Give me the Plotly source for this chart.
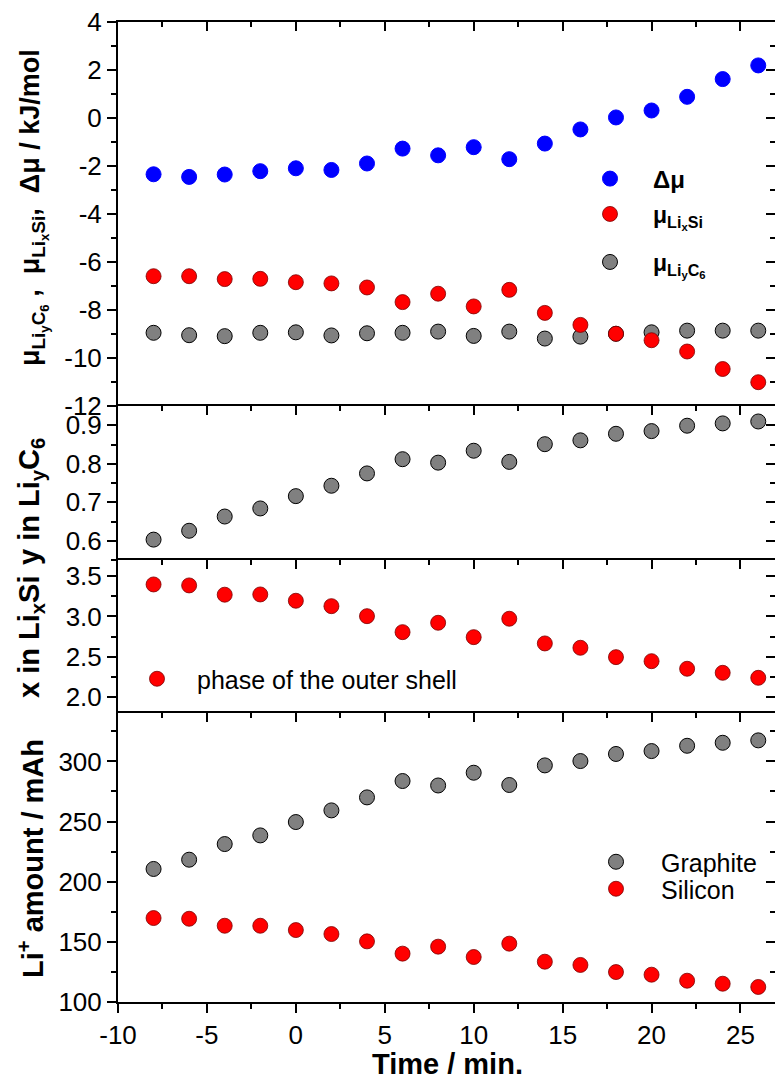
import plotly.graph_objects as go

# ---------------- data ----------------
time_min = [-8, -6, -4, -2, 0, 2, 4, 6, 8, 10, 12, 14, 16, 18, 20, 22, 24, 26]

delta_mu = [-2.35, -2.46, -2.36, -2.22, -2.10, -2.17, -1.90, -1.28, -1.56, -1.22,
            -1.72, -1.07, -0.48, 0.02, 0.31, 0.88, 1.62, 2.19]
mu_lixsi = [-6.60, -6.60, -6.72, -6.71, -6.85, -6.90, -7.07, -7.68, -7.33, -7.86,
            -7.17, -8.13, -8.63, -9.00, -9.27, -9.74, -10.47, -11.02]
mu_liyc6 = [-8.96, -9.06, -9.10, -8.96, -8.94, -9.07, -8.98, -8.96, -8.91, -9.09,
            -8.91, -9.20, -9.12, -9.00, -8.94, -8.87, -8.87, -8.87]

y_in_liyc6 = [0.603, 0.626, 0.663, 0.684, 0.716, 0.743, 0.775, 0.812, 0.803, 0.834,
              0.805, 0.851, 0.861, 0.878, 0.885, 0.899, 0.905, 0.910]

x_in_lixsi = [3.397, 3.385, 3.270, 3.273, 3.195, 3.128, 3.004, 2.806, 2.922, 2.744,
              2.972, 2.666, 2.612, 2.496, 2.446, 2.352, 2.302, 2.240]

li_graphite = [210.6, 218.3, 231.3, 238.5, 249.6, 259.3, 270.1, 283.7, 280.0, 290.6,
               280.4, 296.7, 300.3, 306.2, 308.6, 313.0, 315.5, 317.5]
li_silicon = [169.8, 169.2, 163.4, 163.4, 159.8, 156.5, 150.4, 140.2, 146.0, 137.4,
              148.5, 133.5, 130.8, 124.9, 122.7, 117.7, 115.2, 112.5]

x_tickvals = [-10, -5, 0, 5, 10, 15, 20, 25]
x_ticktext = ["-10", "-5", "0", "5", "10", "15", "20", "25"]
p1_tickvals = [-12, -10, -8, -6, -4, -2, 0, 2, 4]
p1_ticktext = ["-12", "-10", "-8", "-6", "-4", "-2", "0", "2", "4"]
p2_tickvals = [0.6, 0.7, 0.8, 0.9]
p2_ticktext = ["0.6", "0.7", "0.8", "0.9"]
p3_tickvals = [2.0, 2.5, 3.0, 3.5]
p3_ticktext = ["2.0", "2.5", "3.0", "3.5"]
p4_tickvals = [100, 150, 200, 250, 300]
p4_ticktext = ["100", "150", "200", "250", "300"]

# ---------------- style ----------------
FONT = "Liberation Sans, Arial, sans-serif"
W, H = 775, 1081
ML, MR, MT, MB = 118, 0, 22, 79
PW = W - ML - MR
PH = H - MT - MB
X_RANGE = [-10, -10 + PW / 17.785]

BLUE = "#0000FF"
RED = "#FF0000"
GRAY = "#808080"
MS = 15


def py2paper(py):
    return (H - MB - py) / PH


d1 = [py2paper(405.7), 1.0]
d2 = [py2paper(560.0), py2paper(405.7)]
d3 = [py2paper(713.3), py2paper(560.0)]
d4 = [0.0, py2paper(713.3)]

fig = go.Figure()

# panel 1
fig.add_trace(go.Scatter(x=time_min, y=delta_mu, mode="markers", xaxis="x", yaxis="y",
                         name="Δμ", legend="legend",
                         marker=dict(size=MS, color=BLUE, line=dict(color=BLUE, width=1))))
fig.add_trace(go.Scatter(x=time_min, y=mu_liyc6, mode="markers", xaxis="x", yaxis="y",
                         name="μ<sub>Li<sub>y</sub>C<sub>6</sub></sub>", legend="legend3",
                         marker=dict(size=MS, color=GRAY, line=dict(color="black", width=1))))
fig.add_trace(go.Scatter(x=time_min, y=mu_lixsi, mode="markers", xaxis="x", yaxis="y",
                         name="μ<sub>Li<sub>x</sub>Si</sub>", legend="legend2",
                         marker=dict(size=MS, color=RED, line=dict(color="#7a0000", width=0.8))))
# panel 2
fig.add_trace(go.Scatter(x=time_min, y=y_in_liyc6, mode="markers", xaxis="x2", yaxis="y2",
                         showlegend=False,
                         marker=dict(size=MS, color=GRAY, line=dict(color="black", width=1))))
# panel 3
fig.add_trace(go.Scatter(x=time_min, y=x_in_lixsi, mode="markers", xaxis="x3", yaxis="y3",
                         name="phase of the outer shell", legend="legend4",
                         marker=dict(size=MS, color=RED, line=dict(color="#7a0000", width=0.8))))
# panel 4
fig.add_trace(go.Scatter(x=time_min, y=li_graphite, mode="markers", xaxis="x4", yaxis="y4",
                         name="Graphite", legend="legend5",
                         marker=dict(size=MS, color=GRAY, line=dict(color="black", width=1))))
fig.add_trace(go.Scatter(x=time_min, y=li_silicon, mode="markers", xaxis="x4", yaxis="y4",
                         name="Silicon", legend="legend6",
                         marker=dict(size=MS, color=RED, line=dict(color="#7a0000", width=0.8))))

# invisible carriers so the overlay axes (bottom time axis, right-hand ticks) are drawn
for xa, ya, yy in [("x5", "y4", li_silicon), ("x", "y5", delta_mu), ("x2", "y6", y_in_liyc6),
                   ("x3", "y7", x_in_lixsi), ("x4", "y8", li_graphite)]:
    fig.add_trace(go.Scatter(x=time_min, y=yy, mode="markers", xaxis=xa, yaxis=ya,
                             showlegend=False, hoverinfo="skip",
                             marker=dict(size=1, opacity=0)))

tickfont = dict(family=FONT, size=26, color="black")


def x_top(anchor, match=None):
    d = dict(anchor=anchor, side="top", range=X_RANGE, showline=True, linewidth=2,
             linecolor="black", ticks="inside", ticklen=9, tickwidth=2, tickcolor="black",
             tickmode="array", tickvals=x_tickvals, showticklabels=False,
             showgrid=False, zeroline=False,
             minor=dict(ticks="inside", ticklen=5, tickwidth=1.5, tickcolor="black",
                        tickmode="linear", tick0=-10, dtick=2.5, showgrid=False))
    if match:
        d["matches"] = match
    return d


def y_left(domain, rng, tv, tt, mdt, mt0):
    return dict(domain=domain, range=rng, anchor="x", showline=True, linewidth=2,
                linecolor="black", ticks="outside", ticklen=9, tickwidth=2,
                tickcolor="black", tickmode="array", tickvals=tv, ticktext=tt,
                tickfont=tickfont, showgrid=False, zeroline=False,
                minor=dict(ticks="outside", ticklen=5, tickwidth=1.5, tickcolor="black",
                           tickmode="linear", tick0=mt0, dtick=mdt, showgrid=False))


def y_right(over, rng, tv, mdt, mt0, anchor):
    return dict(overlaying=over, side="right", anchor=anchor, range=rng, showline=False,
                ticks="inside", ticklen=9, tickwidth=2, tickcolor="black",
                tickmode="array", tickvals=tv, showticklabels=False,
                showgrid=False, zeroline=False,
                minor=dict(ticks="inside", ticklen=5, tickwidth=1.5, tickcolor="black",
                           tickmode="linear", tick0=mt0, dtick=mdt, showgrid=False))


R1 = [-12, 4]
R2 = [0.55, 0.951]
R3 = [1.8, 3.7]
R4 = [100, 340]

yl1 = y_left(d1, R1, p1_tickvals, p1_ticktext, 1, 0)
yl2 = y_left(d2, R2, p2_tickvals, p2_ticktext, 0.05, 0.55)
yl2["anchor"] = "x2"
yl3 = y_left(d3, R3, p3_tickvals, p3_ticktext, 0.25, 2.0)
yl3["anchor"] = "x3"
yl4 = y_left(d4, R4, p4_tickvals, p4_ticktext, 25, 100)
yl4["anchor"] = "x4"

x_bottom = dict(overlaying="x4", anchor="y4", side="bottom", range=X_RANGE,
                showline=True, linewidth=2, linecolor="black", ticks="outside",
                ticklen=9, tickwidth=2, tickcolor="black", tickmode="array",
                tickvals=x_tickvals, ticktext=x_ticktext, tickfont=tickfont,
                showgrid=False, zeroline=False,
                minor=dict(ticks="outside", ticklen=5, tickwidth=1.5, tickcolor="black",
                           tickmode="linear", tick0=-10, dtick=2.5, showgrid=False))


def leg(cx_sym, cy, itemwidth, size, bold):
    f = dict(family=FONT, size=size, color="black")
    if bold:
        f["weight"] = "bold"
    left = cx_sym - (itemwidth / 2 + 5)
    return dict(xref="container", yref="container", x=left / W, y=1 - cy / H,
                xanchor="left", yanchor="middle", bgcolor="rgba(0,0,0,0)",
                borderwidth=0, itemwidth=itemwidth, font=f)


def ann(text, cx, cy, size=29, angle=-90):
    return dict(text=text, xref="paper", yref="paper", x=(cx - ML) / PW,
                y=py2paper(cy), xanchor="center", yanchor="middle", showarrow=False,
                textangle=angle,
                font=dict(family=FONT, size=size, color="black", weight="bold"))


fig.update_layout(
    width=W, height=H, margin=dict(l=ML, r=MR, t=MT, b=MB, autoexpand=False),
    paper_bgcolor="white", plot_bgcolor="white",
    font=dict(family=FONT, color="black"),
    xaxis=x_top("y"), xaxis2=x_top("y2", "x"), xaxis3=x_top("y3", "x"),
    xaxis4=x_top("y4", "x"), xaxis5=x_bottom,
    yaxis=yl1, yaxis2=yl2, yaxis3=yl3, yaxis4=yl4,
    yaxis5=y_right("y", R1, p1_tickvals, 1, 0, "x"),
    yaxis6=y_right("y2", R2, p2_tickvals, 0.05, 0.55, "x2"),
    yaxis7=y_right("y3", R3, p3_tickvals, 0.25, 2.0, "x3"),
    yaxis8=y_right("y4", R4, p4_tickvals, 25, 100, "x4"),
    legend=leg(610, 179, 76, 24, True),
    legend2=leg(610, 214, 76, 23, True),
    legend3=leg(610, 262, 76, 23, True),
    legend4=leg(157, 679, 70, 25, False),
    legend5=leg(616, 862, 80, 25, False),
    legend6=leg(616, 889, 80, 25, False),
    annotations=[
        ann("μ<sub>Li<sub>y</sub>C<sub>6</sub></sub> ,  μ<sub>Li<sub>x</sub>Si</sub>,  Δμ / kJ/mol", 33, 208, size=27),
        ann("y in Li<sub>y</sub>C<sub>6</sub>", 31, 502),
        ann("x in Li<sub>x</sub>Si", 31, 637),
        ann("Li<sup>+</sup> amount / mAh", 31, 859),
        ann("Time / min.", 447, 1064, angle=0),
    ],
)

fig.write_html("out.html", config={"displayModeBar": False},
               post_script="document.body.style.margin='0';")
